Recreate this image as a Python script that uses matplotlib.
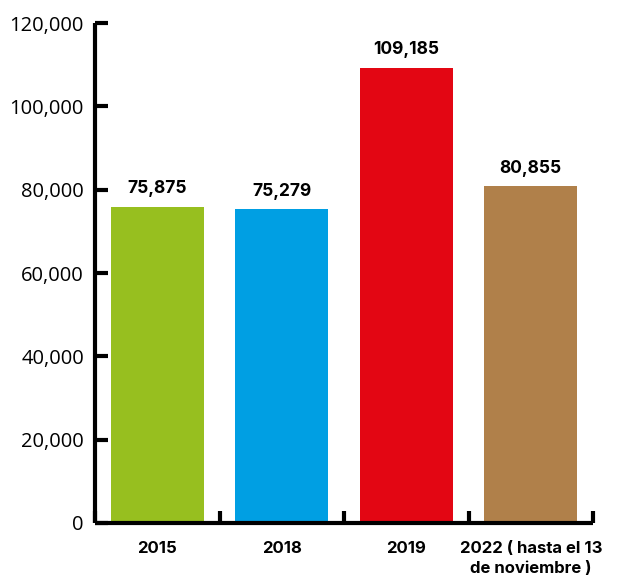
import matplotlib
matplotlib.use("Agg")
import matplotlib.pyplot as plt
from matplotlib.ticker import FuncFormatter, MultipleLocator

categories = ["2015", "2018", "2019", "2022 ( hasta el 13\nde noviembre )"]
values = [75875, 75279, 109185, 80855]
colors = ["#97BF1F", "#009FE3", "#E30613", "#B0804A"]

fig = plt.figure(figsize=(6.23, 5.8), dpi=100)
ax = fig.add_axes([95/623, 1-523/580, (593-95)/623, (523-23)/580])

x = list(range(len(categories)))
ax.bar(x, values, width=0.75, color=colors, zorder=2)
for xi, v in zip(x, values):
    ax.text(xi, v + 2300, f"{v:,}", ha="center", va="bottom",
            fontsize=12.5, fontweight="bold", family="Inter")

ax.set_xlim(-0.5, 3.5)
ax.set_ylim(0, 120000)
ax.yaxis.set_major_locator(MultipleLocator(20000))
ax.yaxis.set_major_formatter(FuncFormatter(lambda v, p: f"{int(v):,}"))

ax.set_xticks(x)
ax.set_xticklabels(categories, fontsize=12, fontweight="bold", family="Inter",
                   linespacing=1.45)
ax.tick_params(axis="x", which="major", length=0, pad=13)
ax.set_xticks([i - 0.5 for i in range(len(categories) + 1)], minor=True)
ax.tick_params(axis="x", which="minor", direction="in", length=9, width=3, color="black")
ax.tick_params(axis="y", direction="in", length=9, width=3, labelsize=14.5, pad=8)
for lbl in ax.get_yticklabels():
    lbl.set_family("Open Sans")

for s in ["top", "right"]:
    ax.spines[s].set_visible(False)
for s in ["left", "bottom"]:
    ax.spines[s].set_linewidth(3)
    ax.spines[s].set_capstyle("butt")

fig.savefig("out.png", dpi=100)
